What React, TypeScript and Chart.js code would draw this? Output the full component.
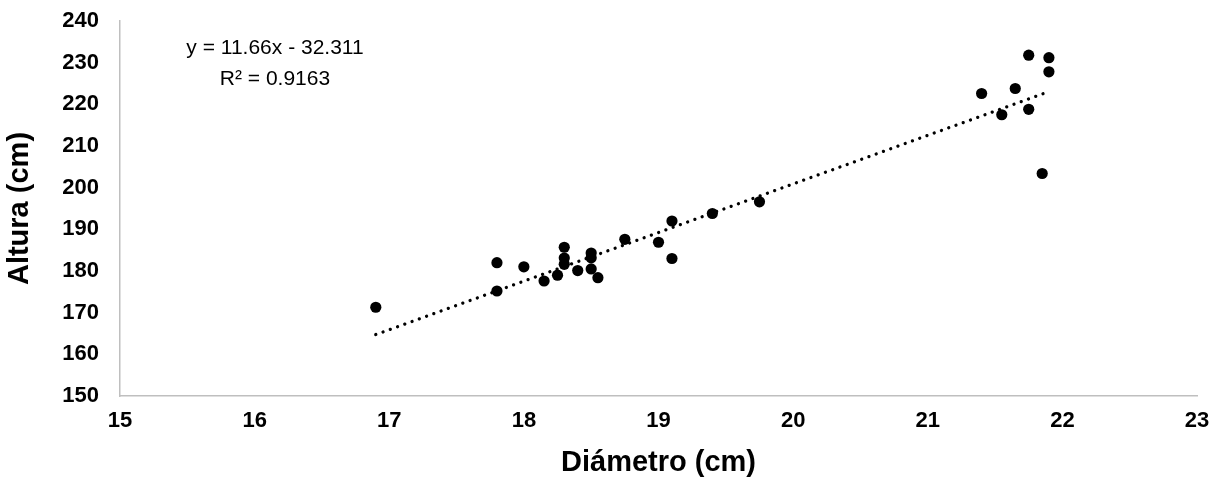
import React, { useEffect, useRef } from "react";
import { Chart, registerables } from "chart.js";

Chart.register(...registerables);

const diametro = [16.9, 17.8, 17.8, 18.0, 18.15, 18.25, 18.3, 18.3, 18.3, 18.4, 18.5, 18.5, 18.5, 18.55, 18.75, 19.0, 19.1, 19.1, 19.4, 19.75, 21.4, 21.55, 21.65, 21.75, 21.75, 21.85, 21.9, 21.9];
const altura = [171.3, 182.0, 175.2, 181.0, 177.6, 179.0, 185.7, 183.1, 181.6, 180.1, 184.3, 183.2, 180.5, 178.4, 187.6, 186.9, 183.0, 192.0, 193.8, 196.6, 222.6, 217.5, 223.8, 231.8, 218.8, 203.4, 231.2, 227.8];
const slope = 11.66;
const intercept = -32.311;
const eqLines = ["y = 11.66x - 32.311", "R² = 0.9163"];
const xTitle = "Diámetro (cm)";
const yTitle = "Altura (cm)";

const FONT = "'Liberation Sans', Arial, sans-serif";

export default function App() {
  const ref = useRef<HTMLCanvasElement | null>(null);
  useEffect(() => {
    if (!ref.current) return;
    const xMin = Math.min(...diametro);
    const xMax = Math.max(...diametro);
    const trend = [
      { x: xMin, y: slope * xMin + intercept },
      { x: xMax, y: slope * xMax + intercept },
    ];
    const eqPlugin = {
      id: "eq",
      afterDraw(chart: any) {
        const { ctx, chartArea } = chart;
        ctx.save();
        ctx.font = `21px ${FONT}`;
        ctx.fillStyle = "#000";
        ctx.textAlign = "center";
        ctx.textBaseline = "middle";
        const cx = chartArea.left + 155;
        ctx.fillText(eqLines[0], cx, chartArea.top + 27);
        ctx.fillText(eqLines[1], cx, chartArea.top + 58);
        ctx.restore();
      },
    };
    const chart = new Chart(ref.current, {
      type: "scatter",
      data: {
        datasets: [
          {
            type: "line",
            label: "trend",
            data: trend,
            borderColor: "#000",
            borderWidth: 3.3,
            borderDash: [0.01, 7.7],
            borderCapStyle: "round",
            pointRadius: 0,
            fill: false,
            order: 0,
          } as any,
          {
            label: "data",
            data: diametro.map((x, i) => ({ x, y: altura[i] })),
            backgroundColor: "#000",
            borderColor: "#000",
            borderWidth: 0,
            pointRadius: 5.6,
            order: 1,
          },
        ],
      },
      options: {
        animation: false,
        responsive: true,
        maintainAspectRatio: false,
        layout: { padding: { top: 21, right: 26, left: 0, bottom: 0 } },
        plugins: { legend: { display: false }, tooltip: { enabled: false } },
        scales: {
          x: {
            type: "linear",
            min: 15,
            max: 23,
            grid: { display: false, drawTicks: false },
            border: { display: true, color: "#bfbfbf", width: 1.5 },
            ticks: {
              stepSize: 1,
              padding: 12,
              color: "#000",
              font: { family: FONT, size: 22, weight: "bold" },
            },
            title: {
              display: true,
              text: xTitle,
              color: "#000",
              padding: { top: 0, bottom: 0 },
              font: { family: FONT, size: 29, weight: "bold" },
            },
            afterFit: (s: any) => {
              s.height = 84;
            },
          },
          y: {
            min: 150,
            max: 240,
            grid: { display: false, drawTicks: false },
            border: { display: true, color: "#bfbfbf", width: 1.5 },
            ticks: {
              stepSize: 10,
              padding: 21,
              color: "#000",
              font: { family: FONT, size: 22, weight: "bold" },
            },
            title: {
              display: true,
              text: yTitle,
              color: "#000",
              padding: { top: 3, bottom: 0 },
              font: { family: FONT, size: 29, weight: "bold" },
            },
            afterFit: (s: any) => {
              s.width = 120;
              s.paddingTop = 0;
              s.paddingBottom = 0;
            },
          },
        },
      },
      plugins: [eqPlugin],
    });
    return () => chart.destroy();
  }, []);
  return (
    <div style={{ position: "absolute", left: 0, top: 0, width: 1223, height: 480, background: "#fff" }}>
      <canvas ref={ref} />
    </div>
  );
}
